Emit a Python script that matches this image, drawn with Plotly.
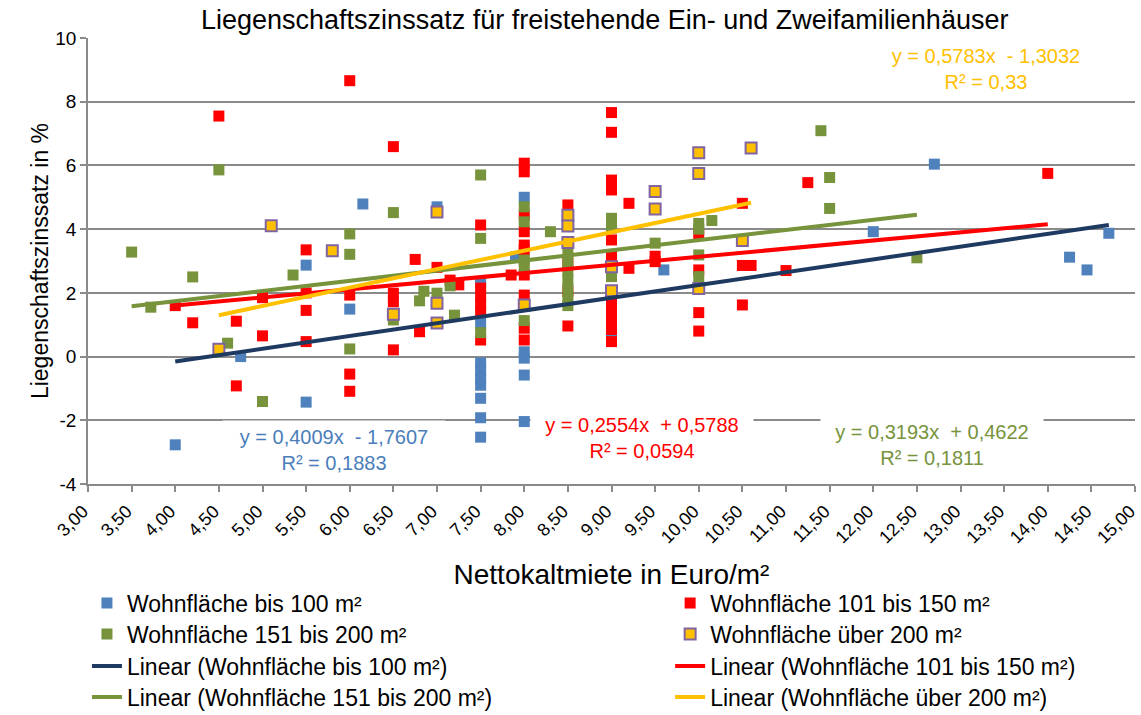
import numpy as np
import plotly.graph_objects as go

# Nettokaltmiete (Euro/m²) and Liegenschaftszinssatz (%) per living-area class
x_bis100 = [4.0, 4.75, 5.5, 5.5, 6.0, 6.15, 7.0, 7.5, 7.5, 7.5, 7.5, 7.5, 7.5, 7.5, 7.5, 7.5,
            7.9, 8.0, 8.0, 8.0, 8.0, 8.0, 9.0, 9.6, 12.0, 12.7, 14.25, 14.45, 14.7]
y_bis100 = [-2.77, 0.0, 2.87, -1.43, 1.49, 4.79, 4.7, 2.3, 1.04, -0.2, -0.45, -0.7, -0.9, -1.31, -1.92, -2.53,
            3.12, 5.0, 0.15, -0.05, -0.58, -2.04, 0.66, 2.72, 3.92, 6.04, 3.12, 2.72, 3.87]

x_101_150 = [4.0, 4.2, 4.5, 4.7, 4.7, 5.0, 5.0, 5.5, 5.5, 5.5, 5.5, 6.0, 6.0, 6.0, 6.0,
             6.5, 6.5, 6.5, 6.5, 6.75, 6.8, 7.0, 7.15, 7.25, 7.5, 7.5, 7.5, 7.5, 7.5, 7.5,
             7.85, 8.0, 8.0, 8.0, 8.0, 8.0, 8.0, 8.0, 8.0, 8.0, 8.0, 8.5, 8.5, 8.5, 8.5,
             9.0, 9.0, 9.0, 9.0, 9.0, 9.0, 9.0, 9.0, 9.0, 9.0, 9.0, 9.2, 9.2, 9.5, 9.5,
             10.0, 10.0, 10.0, 10.0, 10.5, 10.5, 10.6, 10.5, 11.0, 11.25, 14.0]
y_101_150 = [1.6, 1.06, 7.55, 1.11, -0.92, 1.85, 0.65, 3.35, 2.0, 1.45, 0.47, 8.66, 1.93, -0.55, -1.09,
             6.59, 1.99, 1.72, 0.21, 3.05, 0.78, 2.8, 2.4, 2.25, 4.13, 2.15, 1.9, 1.65, 1.4, 0.52,
             2.56, 6.07, 5.8, 4.44, 3.92, 3.5, 3.35, 2.56, 1.93, 0.89, 0.52, 4.76, 2.93, 2.04, 0.96,
             7.66, 7.04, 5.54, 5.23, 3.66, 3.14, 1.68, 1.4, 1.1, 0.85, 0.47, 4.81, 2.77, 3.15, 2.98,
             3.82, 2.72, 1.38, 0.8, 4.81, 2.86, 2.86, 1.62, 2.7, 5.46, 5.75]

x_151_200 = [3.5, 3.72, 4.2, 4.5, 4.6, 5.0, 5.35, 6.0, 6.0, 6.0, 6.5, 6.5, 6.8, 6.85, 7.0,
             7.15, 7.2, 7.5, 7.5, 7.5, 8.0, 8.0, 8.0, 8.0, 8.0, 8.3, 8.5, 8.5, 8.5, 8.5,
             8.5, 8.5, 8.5, 9.0, 9.0, 9.0, 9.5, 10.0, 10.0, 10.0, 10.0, 10.15, 11.4, 11.5, 11.5, 12.5]
y_151_200 = [3.28, 1.55, 2.5, 5.86, 0.42, -1.41, 2.56, 3.85, 3.21, 0.24, 4.52, 1.15, 1.75, 2.05, 1.99,
             2.22, 1.3, 5.7, 3.71, 0.75, 4.7, 4.23, 3.03, 2.8, 1.13, 3.92, 3.3, 3.0, 2.7, 2.4,
             2.1, 1.8, 1.6, 4.34, 4.03, 2.51, 3.56, 4.18, 4.0, 3.19, 2.51, 4.27, 7.09, 5.62, 4.65, 3.1]

x_ueber200 = [4.5, 5.1, 5.8, 6.5, 7.0, 7.0, 7.0, 8.0, 8.5, 8.5, 8.5, 9.0, 9.0, 9.5, 9.5,
              10.0, 10.0, 10.0, 10.5, 10.6]
y_ueber200 = [0.23, 4.11, 3.32, 1.33, 4.54, 1.67, 1.05, 1.62, 4.44, 4.1, 3.58, 2.82, 2.07, 5.18, 4.63,
              6.4, 5.75, 2.14, 3.64, 6.55]

# Linear trend coefficients (slope, intercept) and coefficients of determination
trend_bis100 = (0.4009, -1.7607, 0.1883)
trend_101_150 = (0.2554, 0.5788, 0.0594)
trend_151_200 = (0.3193, 0.4622, 0.1811)
trend_ueber200 = (0.5783, -1.3032, 0.33)

series_names = ["Wohnfläche bis 100 m²", "Wohnfläche 101 bis 150 m²",
                "Wohnfläche 151 bis 200 m²", "Wohnfläche über 200 m²"]

y_tick_values = [-4, -2, 0, 2, 4, 6, 8, 10]
y_tick_labels = ["-4", "-2", "0", "2", "4", "6", "8", "10"]

FONT = "Liberation Sans, Arial, sans-serif"
GRID = "#8a8a8a"

marker_colors = ["#4F81BD", "#FF0000", "#77933C", "#FFC000"]
marker_lines = ["#4F81BD", "#FF0000", "#77933C", "#8064A2"]
marker_line_w = [0, 0, 0, 2]
trend_colors = ["#1F3A60", "#FF0000", "#77933C", "#FFC000"]
label_colors = ["#4A7EBB", "#FF0000", "#77933C", "#FFC000"]

xs = [x_bis100, x_101_150, x_151_200, x_ueber200]
ys = [y_bis100, y_101_150, y_151_200, y_ueber200]
trends = [trend_bis100, trend_101_150, trend_151_200, trend_ueber200]

# legend grid: two columns, four rows (markers in rows 1-2, trend lines in rows 3-4)
legend_cols = [-0.001, 0.556]
legend_rows = [-0.2668, -0.3363, -0.4081, -0.4776]


def legend_slot(k):
    """Legend id for the k-th entry, filled row by row across two columns."""
    return "legend" if k == 0 else f"legend{k + 1}"


fig = go.Figure()

for i in range(4):
    fig.add_trace(go.Scatter(
        x=xs[i], y=ys[i], mode="markers", name=series_names[i], legend=legend_slot(i),
        marker=dict(symbol="square", size=11, color=marker_colors[i],
                    line=dict(color=marker_lines[i], width=marker_line_w[i])),
        hoverinfo="x+y",
    ))

for i in range(4):
    slope, icpt, _ = trends[i]
    xr = np.array([min(xs[i]), max(xs[i])])
    fig.add_trace(go.Scatter(
        x=xr, y=slope * xr + icpt, mode="lines", legend=legend_slot(4 + i),
        name=f"Linear ({series_names[i]})",
        line=dict(color=trend_colors[i], width=4),
        hoverinfo="skip",
    ))


def fmt(v, digits=4):
    return f"{abs(v):.{digits}f}".rstrip("0").rstrip(".").replace(".", ",")


# equation labels (anchor positions in axis units)
label_pos = [(5.82, -2.93), (9.35, -2.55), (12.67, -2.77), (13.29, 9.03)]
for i in range(4):
    slope, icpt, r2 = trends[i]
    sign = "+" if icpt >= 0 else "-"
    txt = f"y = {fmt(slope)}x  {sign} {fmt(icpt)}<br>R² = {fmt(r2)}"
    fig.add_annotation(
        x=label_pos[i][0], y=label_pos[i][1], xref="x", yref="y",
        text=txt, showarrow=False, align="center",
        font=dict(family=FONT, size=20, color=label_colors[i]),
        bgcolor="white" if i < 3 else "rgba(0,0,0,0)",
        width=214, height=50, borderpad=4,
    )

legend_layout = {}
for k in range(8):
    legend_layout[legend_slot(k)] = dict(
        orientation="v", x=legend_cols[k % 2], xanchor="left",
        y=legend_rows[k // 2], yanchor="middle",
        font=dict(family=FONT, size=23, color="#000000"),
        bgcolor="rgba(0,0,0,0)", itemsizing="trace",
    )

fig.update_layout(
    width=1141, height=715,
    margin=dict(l=88, r=6, t=38, b=231, autoexpand=False),
    paper_bgcolor="white", plot_bgcolor="white",
    separators=",.",
    font=dict(family=FONT, size=19, color="#000000"),
    title=dict(text="Liegenschaftszinssatz für freistehende Ein- und Zweifamilienhäuser",
               x=0.53, xanchor="center", y=0.972, yanchor="middle",
               font=dict(family=FONT, size=27, color="#000000")),
    showlegend=True,
    **legend_layout,
)

fig.update_xaxes(
    range=[3, 15], tick0=3, dtick=0.5, tickmode="linear", tickformat=".2f",
    tickangle=-45, ticks="outside", ticklen=6, tickcolor=GRID, tickwidth=1.5,
    ticklabeloverflow="allow", ticklabelshift=-5, ticklabelstandoff=2,
    showline=True, linecolor=GRID, linewidth=1.5, showgrid=False, zeroline=False,
    automargin=False,
    tickfont=dict(family=FONT, size=18, color="#000000"),
    title=dict(text="Nettokaltmiete in Euro/m²", standoff=18,
               font=dict(family=FONT, size=28, color="#000000")),
)
fig.update_yaxes(
    range=[-4, 10], tickmode="array", tickvals=y_tick_values, ticktext=y_tick_labels,
    ticks="outside", ticklen=6, tickcolor=GRID, tickwidth=1.5,
    showline=True, linecolor=GRID, linewidth=1.5,
    showgrid=True, gridcolor=GRID, gridwidth=1.5, zeroline=False,
    automargin=False,
    tickfont=dict(family=FONT, size=19, color="#000000"),
    title=dict(text="Liegenschaftszinssatz in %", standoff=0,
               font=dict(family=FONT, size=23, color="#000000")),
)

fig.write_html("out.html")
